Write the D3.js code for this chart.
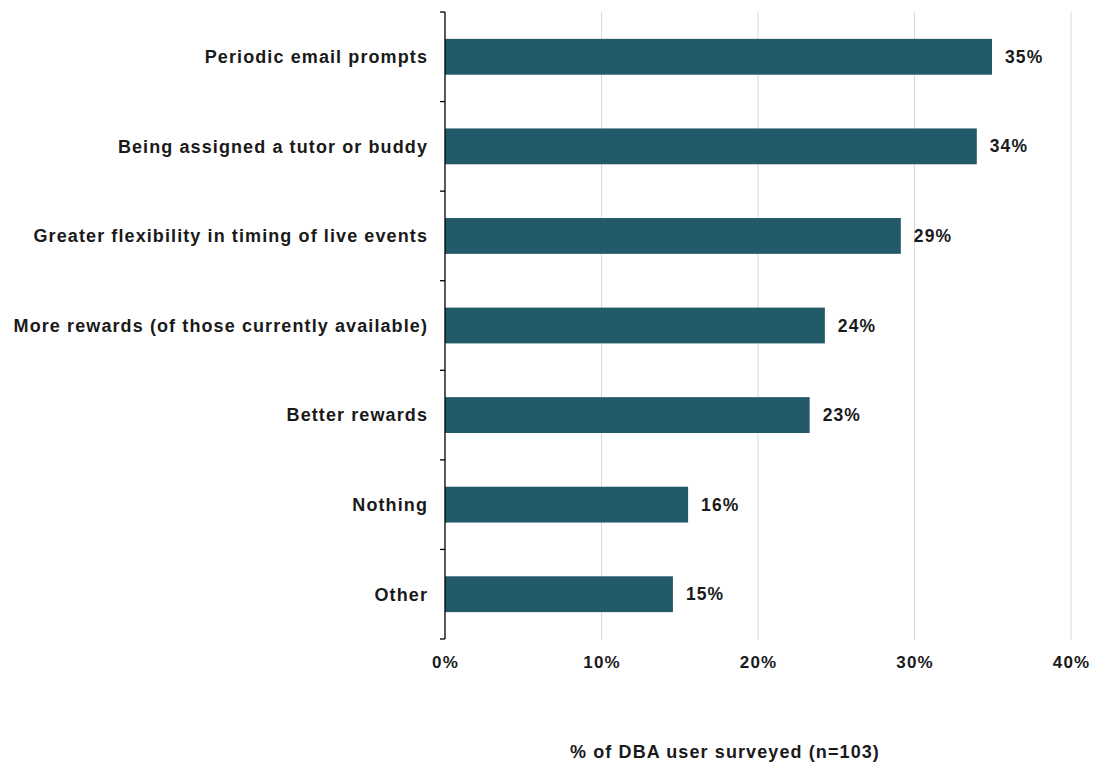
<!DOCTYPE html>
<html>
<head>
<meta charset="utf-8">
<script src="https://cdn.jsdelivr.net/npm/d3@7"></script>
<style>
  html, body { margin: 0; padding: 0; background: #ffffff; }
  svg { display: block; font-family: "Liberation Sans", Arial, sans-serif; }
</style>
</head>
<body>
<svg id="chart" width="1097" height="765"></svg>
<script>
// Survey responses: respondents choosing each option (n = 103)
const categories = [
  "Periodic email prompts",
  "Being assigned a tutor or buddy",
  "Greater flexibility in timing of live events",
  "More rewards (of those currently available)",
  "Better rewards",
  "Nothing",
  "Other"
];
const respondents = [36, 35, 30, 25, 24, 16, 15];
const sampleSize = 103;
const tickValues = [0, 10, 20, 30, 40];
const axisTitle = "% of DBA user surveyed (n=103)";

const shares = respondents.map(d => d / sampleSize * 100);

const svg = d3.select("#chart");
const margin = { left: 445, right: 26, top: 12, bottom: 126 };
const width = 1097, height = 765;

const x = d3.scaleLinear()
  .domain([0, 40])
  .range([margin.left, width - margin.right]);

const y = d3.scaleBand()
  .domain(categories)
  .range([margin.top, height - margin.bottom])
  .paddingInner(0.6)
  .paddingOuter(0.3);

const textColor = "#1a1a1a";
const barColor = "#235a69";
const spacing = "1.1px";

// vertical gridlines
svg.append("g")
  .selectAll("line")
  .data(tickValues.filter(v => v > 0))
  .join("line")
  .attr("x1", d => x(d)).attr("x2", d => x(d))
  .attr("y1", margin.top).attr("y2", height - margin.bottom + 1)
  .attr("stroke", "#d9d9d9")
  .attr("stroke-width", 1);

// bars
svg.append("g")
  .selectAll("rect")
  .data(categories)
  .join("rect")
  .attr("x", x(0))
  .attr("y", d => y(d))
  .attr("width", (d, i) => x(shares[i]) - x(0))
  .attr("height", y.bandwidth())
  .attr("fill", barColor);

// value labels
svg.append("g")
  .selectAll("text")
  .data(categories)
  .join("text")
  .attr("x", (d, i) => x(shares[i]) + 13)
  .attr("y", d => y(d) + y.bandwidth() / 2)
  .attr("dy", "0.35em")
  .attr("font-size", 17.5)
  .attr("font-weight", "bold")
  .attr("letter-spacing", spacing)
  .attr("fill", textColor)
  .text((d, i) => Math.round(shares[i]) + "%");

// category axis with ticks at band boundaries
const yAxis = svg.append("g").attr("transform", `translate(${x(0)},0)`);
yAxis.append("line")
  .attr("x1", 0).attr("x2", 0)
  .attr("y1", margin.top).attr("y2", height - margin.bottom)
  .attr("stroke", "#000").attr("stroke-width", 1.3);
const boundaries = d3.range(categories.length + 1).map(i => margin.top + i * (height - margin.top - margin.bottom) / categories.length);
yAxis.selectAll("line.tick")
  .data(boundaries)
  .join("line")
  .attr("class", "tick")
  .attr("x1", -5).attr("x2", 0)
  .attr("y1", d => d).attr("y2", d => d)
  .attr("stroke", "#000").attr("stroke-width", 1.3);
yAxis.selectAll("text")
  .data(categories)
  .join("text")
  .attr("x", -17)
  .attr("y", d => y(d) + y.bandwidth() / 2)
  .attr("dy", "0.35em")
  .attr("text-anchor", "end")
  .attr("font-size", 18)
  .attr("font-weight", "bold")
  .attr("letter-spacing", spacing)
  .attr("fill", textColor)
  .text(d => d);

// value axis labels
const xAxis = d3.axisBottom(x)
  .tickValues(tickValues)
  .tickFormat(d => d + "%")
  .tickSize(0)
  .tickPadding(15);
const xg = svg.append("g")
  .attr("transform", `translate(0,${height - margin.bottom + 2})`)
  .call(xAxis);
xg.select(".domain").remove();
xg.selectAll("text")
  .attr("font-size", 17)
  .attr("font-weight", "bold")
  .attr("letter-spacing", spacing)
  .attr("fill", textColor)
  .attr("font-family", "Liberation Sans, Arial, sans-serif");

// axis title
svg.append("text")
  .attr("x", 725)
  .attr("y", 758)
  .attr("text-anchor", "middle")
  .attr("font-size", 18)
  .attr("font-weight", "bold")
  .attr("letter-spacing", spacing)
  .attr("fill", textColor)
  .text(axisTitle);
</script>
</body>
</html>
